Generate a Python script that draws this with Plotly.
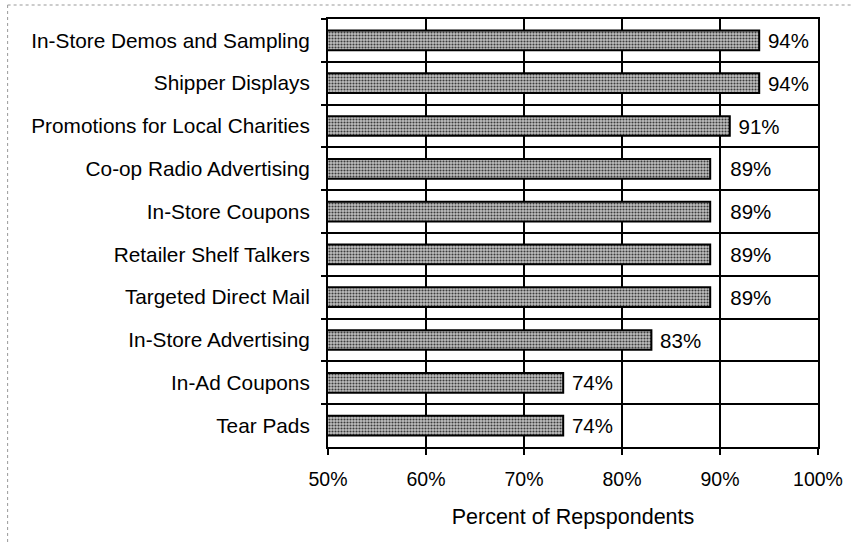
import plotly.graph_objects as go

categories = [
    "In-Store Demos and Sampling",
    "Shipper Displays",
    "Promotions for Local Charities",
    "Co-op Radio Advertising",
    "In-Store Coupons",
    "Retailer Shelf Talkers",
    "Targeted Direct Mail",
    "In-Store Advertising",
    "In-Ad Coupons",
    "Tear Pads",
]
values = [94, 94, 91, 89, 89, 89, 89, 83, 74, 74]
x_tick_vals = [50, 60, 70, 80, 90, 100]
x_tick_text = ["50%", "60%", "70%", "80%", "90%", "100%"]

# labels that would sit on a gridline are nudged past it (as in the original)
labels = [("   " if v % 10 >= 8 else " ") + f"{v}%" for v in values]

fig = go.Figure()
fig.add_trace(go.Bar(
    y=categories,
    x=values,
    base=0,
    orientation="h",
    width=0.46,
    text=labels,
    textposition="outside",
    constraintext="none",
    textfont=dict(size=20.5, color="black"),
    cliponaxis=False,
    marker=dict(
        color="#b4b4b4",
        line=dict(color="black", width=2),
        pattern=dict(shape=".", fgcolor="#3c3c3c", bgcolor="#c0c0c0",
                     size=3, solidity=0.4, fillmode="replace"),
    ),
))

fig.update_layout(
    width=855, height=545,
    margin=dict(l=328, r=33, t=19, b=98),
    paper_bgcolor="white",
    plot_bgcolor="white",
    font=dict(family="Liberation Sans, Arial, sans-serif", size=20, color="black"),
    showlegend=False,
    xaxis=dict(
        range=[50, 100],
        tickmode="array",
        tickvals=x_tick_vals,
        ticktext=x_tick_text,
        ticks="outside",
        ticklen=6,
        tickwidth=2,
        tickcolor="black",
        showgrid=True,
        gridcolor="black",
        gridwidth=2,
        showline=True,
        linecolor="black",
        linewidth=2,
        mirror=True,
        zeroline=False,
        ticklabelstandoff=8,
        title=dict(text="Percent of Repspondents", standoff=20,
                   font=dict(size=21.5)),
        tickfont=dict(size=19.5),
    ),
    yaxis=dict(
        type="category",
        autorange="reversed",
        tickson="boundaries",
        ticks="outside",
        ticklen=5,
        tickwidth=1.5,
        tickcolor="black",
        showgrid=True,
        gridcolor="black",
        gridwidth=1.5,
        showline=True,
        linecolor="black",
        linewidth=2,
        mirror=True,
        tickfont=dict(size=20.8),
        ticklabelstandoff=12,
    ),
    shapes=[
        dict(type="line", xref="paper", yref="paper",
             x0=(5 - 328) / 494, x1=(855 - 328) / 494,
             y0=(447 - 5) / 428, y1=(447 - 5) / 428,
             line=dict(color="#999999", width=1, dash="dot")),
        dict(type="line", xref="paper", yref="paper",
             x0=(5 - 328) / 494, x1=(5 - 328) / 494,
             y0=(447 - 5) / 428, y1=(447 - 545) / 428,
             line=dict(color="#999999", width=1, dash="dot")),
    ],
)

fig.write_html("out.html", config={"displayModeBar": False},
               post_script="document.body.style.margin='0px';")
